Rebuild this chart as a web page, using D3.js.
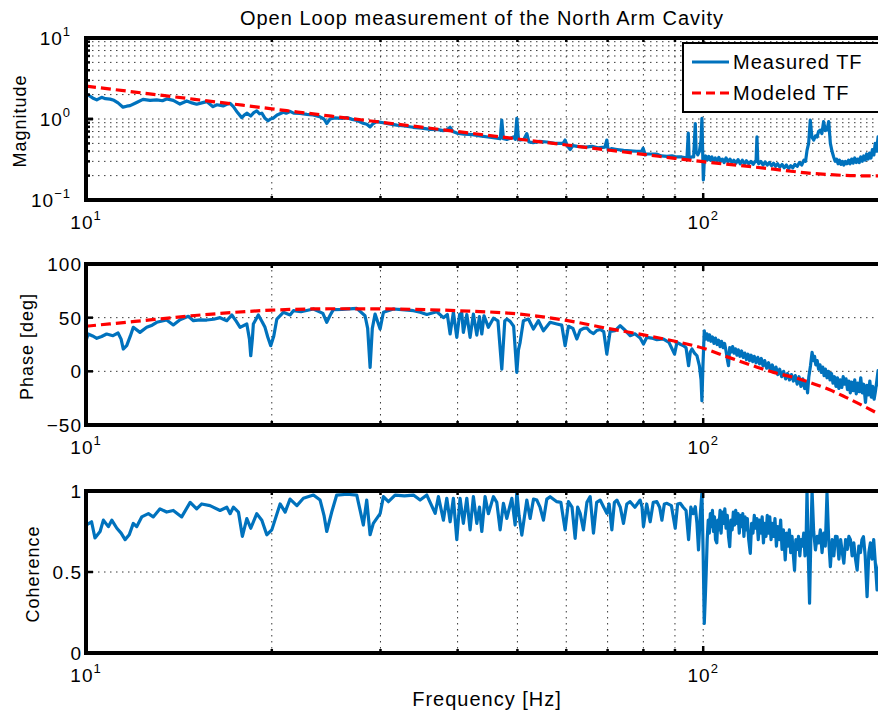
<!DOCTYPE html>
<html><head><meta charset="utf-8">
<script src="https://cdn.jsdelivr.net/npm/d3@7/dist/d3.min.js"></script>
<style>
body{margin:0;background:#fff}
svg{display:block}
text{font-family:"Liberation Sans",Arial,Helvetica,sans-serif;fill:#000}
</style>
</head><body>
<svg id="chart" width="878" height="713"></svg>
<script>
// ---------------- DATA ----------------
const titleText = "Open Loop measurement of the North Arm Cavity";
const xLabelText = "Frequency [Hz]";
const yLabels = ["Magnitude", "Phase [deg]", "Coherence"];
const legendLabels = ["Measured TF", "Modeled TF"];
const xTickValues = [10, 100];
const xTickExponents = ["1", "2"];
const xGridValues = [20, 30, 40, 50, 60, 70, 80, 90, 100, 200];
const magTickValues = [0.1, 1, 10];
const magTickExponents = ["\u22121", "0", "1"];
const magGridValues = [0.2, 0.3, 0.4, 0.5, 0.6, 0.7, 0.8, 0.9, 1, 2, 3, 4, 5, 6, 7, 8, 9];
const phaseTickValues = [-50, 0, 50, 100];
const phaseTickLabels = ["\u221250", "0", "50", "100"];
const phaseGridValues = [0, 50];
const cohTickValues = [0, 0.5, 1];
const cohTickLabels = ["0", "0.5", "1"];
const cohGridValues = [0.5];

// measured magnitude
const magFreq = [10.00,10.08,10.25,10.41,10.60,10.75,10.94,11.10,11.27,11.48,11.64,11.79,12.08,12.37,12.70,13.02,13.30,13.51,13.85,14.20,14.56,14.85,15.11,15.40,15.69,16.06,16.30,16.68,16.91,17.12,17.33,17.60,17.88,18.05,18.22,18.49,18.70,18.91,19.10,19.27,19.50,19.72,19.90,20.10,20.40,20.88,21.10,21.41,21.70,22.23,22.80,23.33,23.90,24.30,24.55,24.85,25.30,26.00,26.45,27.00,27.50,28.12,28.50,28.86,29.20,29.59,30.30,31.00,31.88,32.80,33.88,35.00,36.11,37.20,37.90,38.42,38.90,39.30,39.88,41.00,42.30,43.50,44.80,46.30,46.90,47.17,47.46,48.06,48.70,49.26,49.60,49.89,50.20,50.51,51.20,51.79,52.20,53.02,54.30,55.80,57.50,59.30,59.74,60.20,60.87,61.50,62.50,63.19,64.50,66.00,67.50,69.30,69.80,70.15,71.00,72.50,74.30,76.15,78.00,79.50,79.93,80.50,81.04,82.50,84.00,85.50,87.35,89.00,90.50,92.30,94.12,94.58,94.90,95.80,96.50,97.09,97.40,98.00,98.60,99.20,99.52,99.80,100.05,100.40,100.90,101.50,102.10,102.70,103.30,103.90,104.60,105.30,106.00,106.70,107.40,108.10,108.90,109.70,110.50,111.30,112.10,113.00,113.90,114.80,115.70,116.60,117.50,118.50,119.50,120.50,121.40,121.80,122.20,122.60,123.00,124.00,125.00,126.00,127.00,128.00,129.00,130.00,131.00,132.00,133.10,134.20,135.30,136.40,137.50,138.60,139.70,140.80,142.00,143.20,144.40,145.60,146.50,147.30,148.20,149.10,150.00,151.00,152.00,152.90,153.80,154.80,155.70,156.70,157.70,158.70,159.70,160.70,161.70,162.70,163.60,164.50,165.40,166.30,167.20,168.10,169.00,170.00,171.00,172.00,173.00,174.00,175.00,176.00,177.00,178.00,179.00,180.00,181.00,182.00,183.00,184.00,185.00,186.00,187.00,188.00,189.00,190.00,191.00,192.00,193.00,194.50,196.00];
const magValues = [1.92,1.98,1.82,1.72,1.85,1.78,1.76,1.70,1.58,1.40,1.44,1.46,1.60,1.75,1.70,1.72,1.68,1.77,1.70,1.53,1.67,1.58,1.52,1.58,1.64,1.42,1.50,1.45,1.52,1.56,1.42,1.20,1.04,1.12,1.18,1.09,1.20,1.26,1.16,1.18,1.02,0.95,1.00,1.02,1.12,1.21,1.18,1.24,1.18,1.17,1.14,1.12,1.07,1.00,0.88,1.00,1.03,1.02,1.04,0.99,0.96,0.885,0.86,0.80,0.88,0.93,0.90,0.87,0.84,0.82,0.79,0.77,0.746,0.74,0.72,0.73,0.79,0.70,0.67,0.65,0.64,0.62,0.60,0.58,0.57,0.97,0.57,0.56,0.58,0.60,0.56,1.02,0.56,0.55,0.56,0.66,0.52,0.51,0.53,0.52,0.50,0.50,0.55,0.47,0.42,0.47,0.46,0.455,0.45,0.46,0.44,0.45,0.55,0.41,0.43,0.42,0.41,0.405,0.40,0.40,0.435,0.36,0.37,0.37,0.37,0.35,0.345,0.35,0.34,0.34,0.33,0.67,0.33,0.34,0.34,0.88,0.40,0.36,0.40,0.55,1.02,0.40,0.177,0.30,0.35,0.31,0.345,0.31,0.34,0.30,0.33,0.30,0.335,0.30,0.32,0.29,0.33,0.295,0.32,0.29,0.31,0.285,0.315,0.28,0.31,0.28,0.305,0.28,0.30,0.275,0.30,0.30,0.60,0.30,0.28,0.30,0.27,0.295,0.27,0.29,0.265,0.285,0.26,0.28,0.255,0.275,0.25,0.27,0.245,0.265,0.25,0.275,0.26,0.29,0.27,0.31,0.30,0.41,0.50,0.97,0.60,0.55,0.62,0.60,0.70,0.73,0.66,0.93,0.72,0.73,0.93,0.50,0.40,0.34,0.30,0.32,0.28,0.31,0.275,0.30,0.27,0.30,0.28,0.31,0.28,0.32,0.285,0.33,0.29,0.32,0.29,0.34,0.30,0.35,0.31,0.37,0.32,0.38,0.33,0.42,0.36,0.50,0.40,0.60,0.42,0.50,0.45];

// modeled magnitude
const modelFreq = [10,12,15,20,25,30,40,50,60,70,80,90,100,110,120,130,140,150,160,170,180,190,200];
const modelMag = [2.55,2.15,1.75,1.335,1.083,0.914,0.699,0.567,0.478,0.414,0.366,0.327,0.297,0.275,0.257,0.24,0.225,0.213,0.206,0.201,0.199,0.198,0.198];
// modeled phase
const modelPhase = [42,46.5,52,57,58.3,58.2,56.5,53.5,47.5,40,34,28,21.5,13,5.5,-1,-5.5,-11,-17,-24,-31,-38,-45];

// measured phase
const phaseFreq = [10.00,10.08,10.25,10.41,10.60,10.80,11.06,11.27,11.40,11.49,11.64,11.80,11.93,12.23,12.54,12.80,13.02,13.51,13.85,14.20,14.65,14.93,15.30,15.69,16.10,16.49,16.91,17.23,17.50,17.77,18.22,18.40,18.49,18.60,18.67,19.02,19.30,19.50,19.70,19.92,20.15,20.38,20.88,21.41,21.68,22.30,23.36,24.20,24.55,24.85,25.16,26.00,27.46,28.32,28.60,28.86,29.10,29.40,29.96,30.33,31.48,32.50,33.92,34.78,35.66,37.02,37.94,38.50,38.90,39.38,39.88,40.30,40.63,40.87,41.40,41.91,42.43,42.97,43.40,43.78,44.15,44.87,45.72,46.50,47.17,47.70,48.06,48.66,49.30,49.89,50.20,50.51,51.13,52.10,53.08,54.08,55.10,56.49,57.92,59.00,59.74,60.49,61.50,62.41,63.19,64.00,64.79,65.60,66.41,67.20,68.08,69.00,69.80,70.67,72.00,73.36,74.80,76.15,77.50,79.04,80.02,81.04,82.50,84.13,86.24,88.00,89.86,90.67,92.00,92.93,93.80,94.69,95.30,95.90,96.80,97.71,98.60,99.20,99.52,99.90,100.4,100.9,101.4,101.9,102.4,102.9,103.5,104.1,104.7,105.3,105.9,106.5,107.1,107.7,108.3,108.9,109.5,109.9,110.4,111.0,111.6,112.2,112.8,113.4,114.0,114.7,115.4,116.1,116.8,117.5,118.2,118.9,119.6,120.3,121.0,121.8,122.6,123.4,124.2,125.0,125.8,126.7,127.6,128.5,129.4,130.3,131.2,132.1,133.0,134.0,135.0,136.0,137.0,138.0,139.0,140.0,141.0,142.0,143.0,144.0,145.0,146.0,147.0,147.6,148.3,149.2,150.1,150.8,151.5,152.2,153.0,153.8,154.6,155.4,156.2,157.0,157.8,158.7,159.6,160.5,161.4,162.3,163.2,164.1,165.0,165.9,166.8,167.7,168.6,169.5,170.4,171.3,172.2,173.1,174.0,175.0,176.0,177.0,178.0,179.0,180.0,181.0,182.0,183.2,184.2,185.2,186.2,187.2,188.2,189.2,190.2,191.2,192.0,193.0,194.5,196.0];
const phaseValues = [28.5,34.8,33,30.8,32.5,34.8,33.2,35.7,30,20.8,23.9,33,41.0,36.3,41.0,43,45.7,47.8,43.2,48.1,51.3,47.2,48,47.8,48.5,50.0,47.2,52.5,47,41.0,44.1,30,14.5,30,44.1,52.5,46,41.0,32,23.9,33,48.7,55.0,52.5,56.5,55.5,58.1,54,45.7,52,57.5,57.8,58.7,51.8,40,3.7,40,53.4,39.4,55.0,58.1,57.5,56.5,55.0,53,55.5,50,53,34.8,55.0,31.7,53,54.3,36.3,53,31.7,53.4,33.8,51,34.8,51.8,41.0,49.5,47,2.1,47,48.7,46.5,42,-0.9,20,27.0,47.2,48.7,39.4,47.2,37.8,45.7,44.1,43,23.9,42.0,40,30.1,38.3,40,40.4,37,35.2,38,39.0,37,16.1,37.3,38,42.5,38,33.2,35,31.1,25.4,31.7,31,29.5,30.1,27,16.1,27.0,25,23.9,22,5.2,18,20.8,17,14.5,5,-8,-27.4,5,37.8,30,35,29,34,28,32,26,31,25,29,23,28,22,26,19,10,5.2,22,18,23,17,21,15,20,14,19,13,17,11,16,10,15,9,14,8,13,7,12,5,10,3,8,1,6,-1,4,-3,2,-5,0,-7,-2,-8,-3,-9,-4,-12,-5,-14,-7,-16,-10,-20,-5,5,17.7,10,14,6,10,2,6,-1,4,-4,2,-6,0,-8,-2,-11,-5,-14,-6,-16,-8,-15,-5,-12,-7,-17,-9,-20,-10,-18,-8,-21,-11,-19,-6,-20,-12,-28.9,-13,-22,-9,-24,-14,-26,-18,-8,0.6,-14,-20,-10];

// measured coherence
const cohFreq = [10.00,10.21,10.34,10.54,10.67,10.87,11.01,11.22,11.40,11.57,11.75,11.93,12.08,12.31,12.62,12.85,13.18,13.51,13.85,14.29,14.75,15.11,15.40,15.88,16.49,16.91,17.12,17.33,17.66,17.92,18.22,18.49,18.91,19.27,19.63,20.00,20.63,21.02,21.41,21.96,22.50,23.36,23.95,24.30,24.55,25.01,25.48,26.50,27.46,28.14,28.50,28.86,29.21,29.96,30.33,30.90,31.68,32.80,33.92,34.78,35.66,36.79,37.24,37.94,38.42,38.90,39.38,39.88,40.37,40.87,41.40,41.91,42.43,42.97,43.40,43.78,44.32,44.87,45.72,46.30,46.88,47.46,48.06,48.97,49.58,49.89,50.30,50.83,51.79,52.43,53.10,53.76,54.40,55.10,55.80,56.49,57.92,58.80,59.74,60.49,61.30,62.02,62.60,63.19,63.97,64.80,65.59,66.41,67.20,68.08,69.00,69.80,70.40,71.12,71.80,72.46,73.40,74.27,75.20,76.15,77.50,79.04,79.60,80.02,81.00,82.05,83.00,84.13,85.00,85.72,86.50,87.35,88.80,90.09,90.90,91.79,92.80,93.80,94.69,95.50,96.30,97.09,97.70,98.26,98.90,99.52,100.0,100.4,100.8,101.1,101.5,101.9,102.3,102.7,103.1,103.5,103.9,104.3,104.7,105.2,105.6,106.0,106.5,106.9,107.4,107.9,108.4,108.9,109.4,109.9,110.4,110.9,111.4,111.9,112.4,112.9,113.4,113.9,114.4,114.9,115.4,115.9,116.4,116.9,117.4,117.9,118.5,119.2,119.8,120.4,121.0,121.6,122.2,122.8,123.4,124.0,124.6,125.2,125.8,126.4,127.0,127.6,128.2,128.8,129.4,130.0,130.7,131.4,132.1,132.8,133.5,134.2,134.9,135.8,136.5,137.2,137.9,138.6,139.3,140.0,140.6,141.3,142.0,142.7,143.4,144.1,144.8,145.5,146.2,146.8,147.3,148.0,148.7,149.4,150.1,151.0,152.0,153.0,153.9,154.8,155.8,156.8,157.7,158.7,159.7,160.7,161.8,162.8,163.8,164.8,165.9,167.0,168.0,169.0,170.1,171.2,172.2,173.2,174.3,175.4,176.5,177.6,178.7,179.8,180.8,181.8,183.0,184.3,185.5,186.6,187.7,188.9,190.1,191.3,192.2,194.0,196.0];
const cohValues = [0.79,0.81,0.71,0.75,0.82,0.78,0.82,0.77,0.74,0.70,0.73,0.80,0.78,0.84,0.86,0.84,0.89,0.87,0.88,0.84,0.93,0.89,0.92,0.91,0.88,0.90,0.86,0.90,0.87,0.72,0.83,0.77,0.86,0.82,0.73,0.76,0.92,0.87,0.95,0.91,0.955,0.975,0.944,0.85,0.75,0.87,0.975,0.98,0.975,0.79,0.944,0.73,0.80,0.86,0.965,0.934,0.975,0.97,0.975,0.944,0.975,0.862,0.965,0.82,0.955,0.81,0.955,0.70,0.955,0.80,0.955,0.76,0.965,0.80,0.90,0.75,0.965,0.86,0.965,0.93,0.76,0.924,0.831,0.955,0.79,0.996,0.85,0.728,0.944,0.831,0.95,0.944,0.90,0.82,0.95,0.965,0.934,0.93,0.76,0.934,0.90,0.708,0.90,0.862,0.76,0.93,0.965,0.74,0.93,0.944,0.90,0.862,0.92,0.76,0.93,0.944,0.90,0.80,0.92,0.934,0.90,0.944,0.90,0.78,0.92,0.81,0.93,0.934,0.90,0.82,0.92,0.924,0.91,0.77,0.92,0.924,0.90,0.88,0.70,0.90,0.86,0.903,0.80,0.636,0.85,0.99,0.60,0.183,0.35,0.49,0.70,0.82,0.74,0.86,0.78,0.88,0.75,0.84,0.70,0.68,0.82,0.76,0.88,0.74,0.87,0.80,0.89,0.77,0.85,0.72,0.656,0.82,0.76,0.87,0.79,0.88,0.80,0.86,0.74,0.85,0.78,0.86,0.72,0.84,0.76,0.83,0.70,0.615,0.80,0.74,0.85,0.77,0.83,0.70,0.82,0.74,0.84,0.68,0.80,0.72,0.85,0.74,0.84,0.70,0.80,0.72,0.83,0.66,0.78,0.70,0.82,0.64,0.76,0.574,0.74,0.66,0.76,0.62,0.72,0.60,0.51,0.70,0.64,0.72,0.60,0.70,0.66,0.74,0.60,0.70,1.00,0.60,0.307,0.70,1.00,0.75,0.636,0.72,0.68,0.76,0.62,0.74,0.66,0.986,0.70,0.533,0.70,0.60,0.72,0.718,0.58,0.70,0.62,0.554,0.70,0.64,0.72,0.70,0.60,0.68,0.58,0.512,0.66,0.62,0.70,0.718,0.60,0.348,0.62,0.68,0.58,0.70,0.55,0.389,0.51,0.60,0.55];

// ---------------- DRAWING ----------------
const svg = d3.select("#chart");
const BLUE = "#0072BD", RED = "#FF0000";
const left = 86, right = 889;
const x = d3.scaleLog().domain([10, 200]).range([left, right]);

const panels = [
  {id: "mag", top: 38, bottom: 200, label: yLabels[0], labelX: 20},
  {id: "phase", top: 264, bottom: 425, label: yLabels[1], labelX: 27},
  {id: "coh", top: 491, bottom: 653, label: yLabels[2], labelX: 33}
];
panels[0].y = d3.scaleLog().domain([0.1, 10]).range([panels[0].bottom, panels[0].top]);
panels[1].y = d3.scaleLinear().domain([-50, 100]).range([panels[1].bottom, panels[1].top]);
panels[2].y = d3.scaleLinear().domain([0, 1]).range([panels[2].bottom, panels[2].top]);

// title
svg.append("text").attr("x", 482).attr("y", 25).attr("text-anchor", "middle")
  .style("font-size", "20px").style("letter-spacing", "1px").text(titleText);
// x label
svg.append("text").attr("x", 487).attr("y", 706).attr("text-anchor", "middle")
  .style("font-size", "20px").style("letter-spacing", "1px").text(xLabelText);

const defs = svg.append("defs");
panels.forEach((p, i) => {
  defs.append("clipPath").attr("id", "clip" + i).append("rect")
    .attr("x", left).attr("y", p.top).attr("width", right - left).attr("height", p.bottom - p.top);
});

const gridStyle = g => g.attr("stroke", "#3a3a3a").attr("stroke-width", 1).attr("stroke-dasharray", "1.5,4.5").attr("fill", "none");

function drawGrid(p, yGrid) {
  const g = svg.append("g");
  g.selectAll("line.vg").data(xGridValues).enter().append("line")
    .attr("x1", d => x(d)).attr("x2", d => x(d)).attr("y1", p.top).attr("y2", p.bottom).call(gridStyle);
  g.selectAll("line.hg").data(yGrid).enter().append("line")
    .attr("x1", left).attr("x2", right).attr("y1", d => p.y(d)).attr("y2", d => p.y(d)).call(gridStyle);
}
drawGrid(panels[0], magGridValues);
drawGrid(panels[1], phaseGridValues);
drawGrid(panels[2], cohGridValues);

function drawLine(p, i, fr, vals, color, dash) {
  const data = d3.zip(fr, vals);
  const line = d3.line().x(d => x(d[0])).y(d => p.y(d[1]));
  if (dash) line.curve(d3.curveMonotoneX);
  svg.append("path").datum(data).attr("clip-path", "url(#clip" + i + ")")
    .attr("d", line).attr("fill", "none").attr("stroke", color)
    .attr("stroke-width", 3.2).attr("stroke-linejoin", "round")
    .attr("stroke-dasharray", dash || null);
}
drawLine(panels[0], 0, magFreq, magValues, BLUE);
drawLine(panels[0], 0, modelFreq, modelMag, RED, "10,5");
drawLine(panels[1], 1, phaseFreq, phaseValues, BLUE);
drawLine(panels[1], 1, modelFreq, modelPhase, RED, "10,5");
drawLine(panels[2], 2, cohFreq, cohValues, BLUE);

// axes frames and ticks
panels.forEach((p, i) => {
  const g = svg.append("g");
  const xt = xGridValues.concat([10]);
  xt.forEach(v => {
    const len = (v === 10 || v === 100) ? 7 : 4;
    g.append("line").attr("x1", x(v)).attr("x2", x(v)).attr("y1", p.bottom).attr("y2", p.bottom - len)
      .attr("stroke", "#000").attr("stroke-width", 2.5);
    g.append("line").attr("x1", x(v)).attr("x2", x(v)).attr("y1", p.top).attr("y2", p.top + len)
      .attr("stroke", "#000").attr("stroke-width", 2.5);
  });
  g.append("rect").attr("x", left).attr("y", p.top).attr("width", right - left).attr("height", p.bottom - p.top)
    .attr("fill", "none").attr("stroke", "#000").attr("stroke-width", 4);
  xTickValues.forEach((v, k) => {
    const t = g.append("text").attr("x", x(v)).attr("y", p.bottom + 29).attr("text-anchor", "middle")
      .style("font-size", "19px").style("letter-spacing", "1px");
    t.append("tspan").text("10");
    t.append("tspan").attr("dy", -9).style("font-size", "13px").text(xTickExponents[k]);
  });
  g.append("text").attr("transform", `translate(${p.labelX},${(p.top + p.bottom) / 2 + 2}) rotate(-90)`)
    .attr("text-anchor", "middle").attr("dy", "0.35em")
    .style("font-size", "18px").style("letter-spacing", "1px").text(p.label);
});

// y ticks magnitude
(function () {
  const p = panels[0];
  const g = svg.append("g");
  magGridValues.concat(magTickValues).forEach(v => {
    const major = magTickValues.includes(v);
    g.append("line").attr("x1", left).attr("x2", left + (major ? 7 : 4))
      .attr("y1", p.y(v)).attr("y2", p.y(v)).attr("stroke", "#000").attr("stroke-width", 2.5);
  });
  magTickValues.forEach((v, k) => {
    const t = g.append("text").attr("x", 71).attr("y", p.y(v) + 7).attr("text-anchor", "end")
      .style("font-size", "19px").style("letter-spacing", "1px");
    t.append("tspan").text("10");
    t.append("tspan").attr("dy", -9).style("font-size", "13px").text(magTickExponents[k]);
  });
})();

function linearTicks(p, vals, labels) {
  const g = svg.append("g");
  vals.forEach((v, k) => {
    g.append("line").attr("x1", left).attr("x2", left + 7)
      .attr("y1", p.y(v)).attr("y2", p.y(v)).attr("stroke", "#000").attr("stroke-width", 2.5);
    g.append("text").attr("x", 82).attr("y", p.y(v) + 7).attr("text-anchor", "end")
      .style("font-size", "19px").style("letter-spacing", "1px").text(labels[k]);
  });
}
linearTicks(panels[1], phaseTickValues, phaseTickLabels);
linearTicks(panels[2], cohTickValues, cohTickLabels);

// legend
(function () {
  const g = svg.append("g");
  g.append("rect").attr("x", 683).attr("y", 43).attr("width", 230).attr("height", 69)
    .attr("fill", "#fff").attr("stroke", "#000").attr("stroke-width", 2);
  const items = [{c: BLUE, dash: null, y: 62}, {c: RED, dash: "9,5", y: 93}];
  items.forEach((it, k) => {
    g.append("line").attr("x1", 692).attr("x2", 729).attr("y1", it.y).attr("y2", it.y)
      .attr("stroke", it.c).attr("stroke-width", 3.2).attr("stroke-dasharray", it.dash);
    g.append("text").attr("x", 733).attr("y", it.y + 7).style("font-size", "20px")
      .style("letter-spacing", "1px").text(legendLabels[k]);
  });
})();
</script>
</body></html>
